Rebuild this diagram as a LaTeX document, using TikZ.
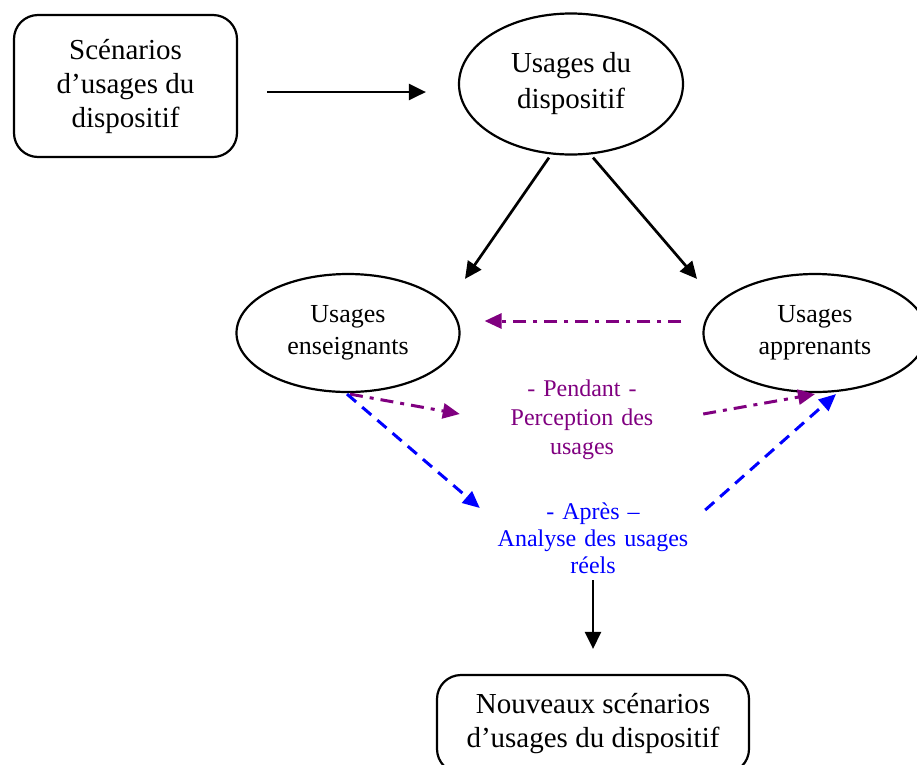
\documentclass[tikz,border=0pt]{standalone}
\usepackage{fontspec}
\setmainfont{Liberation Serif}
\usetikzlibrary{shapes.geometric,arrows.meta,calc}
\definecolor{mauve}{RGB}{128,0,128}
\begin{document}
\begin{tikzpicture}[x=1pt,y=-1pt,
  boite/.style={draw,line width=2.2pt,rounded corners=24pt,align=center,inner sep=0pt,font=\fontsize{29}{34}\selectfont},
  bulle/.style={draw,ellipse,line width=2.2pt,align=center,inner sep=0pt,minimum width=223,minimum height=118,font=\fontsize{26}{32}\selectfont},
  fleche/.style={line width=2.7pt,-{Triangle[length=17pt,width=16pt]}},
  pendant/.style={mauve,line width=3pt,dash pattern=on 13pt off 7pt on 4pt off 7pt,-{Triangle[length=17pt,width=15pt]}},
  apres/.style={blue,line width=3pt,dash pattern=on 12pt off 8pt,-{Triangle[length=17pt,width=15pt]}}]
\clip (0,0) rectangle (917,764);
\node[boite,minimum width=223,minimum height=142] (sc) at (125.5,86) {Scénarios\\d’usages du\\dispositif};
\node[bulle,minimum width=224,minimum height=141,font=\fontsize{29}{36}\selectfont] (ud) at (571,84) {Usages du\\dispositif};
\node[bulle] (ue) at (348,333) {Usages\\enseignants};
\node[bulle] (ua) at (815,333) {Usages\\apprenants};
\node[mauve,align=center,inner sep=0pt,text width=180,font=\fontsize{24}{29}\selectfont] (pe) at (582,420) {- Pendant -\\Perception des\\usages};
\node[blue,align=center,inner sep=0pt,text width=200,font=\fontsize{24}{27}\selectfont] (ap) at (593,538) {- Après –\\Analyse des usages\\réels};
\node[boite,minimum width=312,minimum height=98] (nv) at (593,724) {Nouveaux scénarios\\d’usages du dispositif};
\draw[fleche] ($(sc.east)+(29,6)$) -- ($(ud.west)+(-32,8)$);
\draw[fleche] ($(ud.south)+(-22,2)$) -- ($(ue.north)+(117,6)$);
\draw[fleche] ($(ud.south)+(22,2)$) -- ($(ua.north)+(-118,6)$);
\draw[pendant] ($(ua.west)+(-21,-12)$) -- ($(ue.east)+(24,-12)$);
\draw[pendant] ($(ue.south)+(2,1)$) -- ($(pe.west)+(-32,-6)$);
\draw[pendant] ($(pe.east)+(31,-6)$) -- ($(ua.south)+(0,1)$);
\draw[apres] ($(ue.south)+(-1,1)$) -- ($(ap.west)+(-13,-30)$);
\draw[apres] ($(ap.east)+(12,-28)$) -- ($(ua.south)+(21,1)$);
\draw[fleche] ($(ap)+(0,42)$) -- ($(nv.north)+(0,-25)$);
\end{tikzpicture}
\end{document}
